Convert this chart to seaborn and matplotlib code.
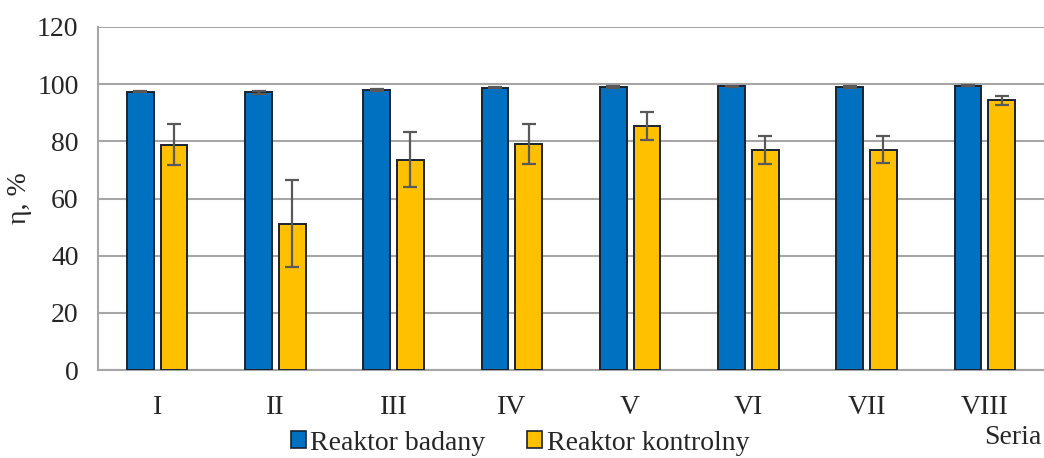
import numpy as np
import pandas as pd
import matplotlib
matplotlib.use("Agg")
import matplotlib.pyplot as plt
import seaborn as sns
from matplotlib.patches import Patch

series = ["I", "II", "III", "IV", "V", "VI", "VII", "VIII"]
badany = [97.4, 97.1, 98.0, 98.8, 99.1, 99.2, 98.9, 99.5]
badany_err = [0.3, 0.5, 0.3, 0.3, 0.3, 0.3, 0.3, 0.3]
kontrolny = [78.8, 51.2, 73.6, 79.1, 85.5, 77.0, 77.1, 94.3]
kontrolny_err = [7.2, 15.3, 9.6, 7.0, 4.9, 4.8, 4.6, 1.6]
groups = ["Reaktor badany", "Reaktor kontrolny"]
colors = ["#0070C0", "#FFC000"]

df = pd.DataFrame({
    "Seria": series * 2,
    "val": badany + kontrolny,
    "err": badany_err + kontrolny_err,
    "grp": [groups[0]] * len(series) + [groups[1]] * len(series),
})

sns.set_style("white")
plt.rcParams["font.family"] = ["Liberation Serif", "DejaVu Serif"]
FS = 20

fig = plt.figure(figsize=(10.44, 4.58), dpi=100)
ax = fig.add_axes([98 / 1044, 1 - 370 / 458, (1044 - 98) / 1044, 343 / 458])

sns.barplot(data=df, x="Seria", y="val", hue="grp", palette=colors, saturation=1,
            hue_order=groups, order=series, errorbar=None, width=0.57, gap=0.21,
            edgecolor="#1a2330", linewidth=1.4, ax=ax, legend=False, zorder=3)

# error bars at bar centres
for container, errs in zip(ax.containers, [badany_err, kontrolny_err]):
    xs = [p.get_x() + p.get_width() / 2 for p in container.patches]
    hs = [p.get_height() for p in container.patches]
    ax.errorbar(xs, hs, yerr=errs, fmt="none", ecolor="#595959",
                elinewidth=1.6, capsize=5, capthick=1.6, zorder=4)

ax.set_ylim(0, 120)
ax.set_yticks(np.arange(0, 121, 20))
ax.set_xlim(-0.5, 7.5 - 13 / 120)
ax.yaxis.grid(True, color="#a6a6a6", linewidth=1.5, zorder=0)
ax.set_axisbelow(True)

ax.set_xticks(np.arange(-0.5, 8, 1.0))
ax.set_xticklabels([])
ax.set_xticks(np.arange(len(series)), minor=True)
ax.set_xticklabels(series, minor=True)
ax.tick_params(axis="x", which="major", length=8, width=1.5, color="#a6a6a6", direction="out")
ax.tick_params(axis="x", which="minor", length=0, labelsize=FS, pad=18)
ax.tick_params(axis="y", length=8, width=1.5, color="#a6a6a6", labelsize=FS, pad=6)

for s in ["top", "right"]:
    ax.spines[s].set_visible(False)
for s in ["left", "bottom"]:
    ax.spines[s].set_color("#a6a6a6")
    ax.spines[s].set_linewidth(1.5)

ax.set_xlabel("")
ax.set_ylabel("η, %", fontsize=FS, labelpad=4)

handles = [Patch(facecolor=c, edgecolor="#1a2330", linewidth=1.2) for c in colors]
fig.legend(handles, groups, loc="center", bbox_to_anchor=(520 / 1044, 1 - 443 / 458),
           ncol=2, frameon=False, fontsize=FS, handlelength=0.55, handleheight=0.55,
           handletextpad=0.15, columnspacing=1.5, borderpad=0)
fig.text(1041 / 1044, 1 - 438 / 458, "Seria", ha="right", va="center", fontsize=FS)

fig.savefig("out.png", dpi=100)
